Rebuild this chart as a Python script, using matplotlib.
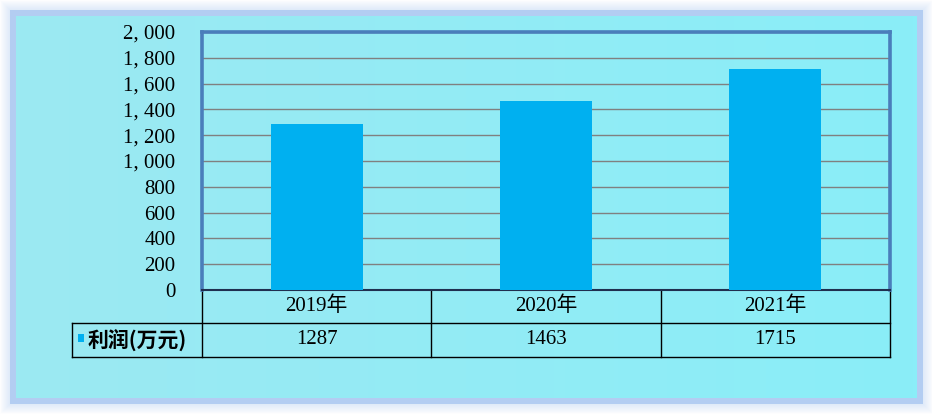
import numpy as np
import matplotlib.pyplot as plt
from matplotlib.patches import Rectangle
from matplotlib.colors import LinearSegmentedColormap

plt.rcParams["font.family"] = ["Liberation Serif", "Noto Sans CJK SC"]

years = ["2019年", "2020年", "2021年"]
profit = [1287, 1463, 1715]
series_name = "利润(万元)"
yticks = list(range(0, 2001, 200))

W, H = 932, 416
fig = plt.figure(figsize=(W / 100, H / 100), dpi=100)
fig.patch.set_facecolor("white")

# background panel with glow
bg = fig.add_axes([0, 0, 1, 1], zorder=0)
bg.set_xlim(0, W)
bg.set_ylim(H, 0)
bg.axis("off")
for i in range(10):
    bg.add_patch(Rectangle((16 - 6 - i, 16 - 6 - i), 901 + 2 * (6 + i), 382 + 2 * (6 + i),
                           fill=False, edgecolor="#B8D0F2", lw=1.2, alpha=max(0.0, 0.3 - 0.03 * i)))
bg.add_patch(Rectangle((10, 10), 913, 394, facecolor="#B3CDF2", edgecolor="none"))
cmap = LinearSegmentedColormap.from_list("panel", ["#9CE9F2", "#8AEEF8"])
bg.imshow(np.linspace(0, 1, 256)[None, :], cmap=cmap, aspect="auto",
          extent=[16, 917, 398, 16], zorder=1)

# chart area
ax = fig.add_axes([202 / W, 1 - 290 / H, 688 / W, 258 / H], zorder=2)
ax.patch.set_alpha(0)
x = np.arange(len(years))
ax.bar(x, profit, width=0.4, color="#00B0F0", zorder=3)
ax.set_xlim(-0.5, len(years) - 0.5)
ax.set_ylim(0, 2000)
ax.set_yticks(yticks)
ax.set_yticklabels([f"{v:,}".replace(",", ", ") for v in yticks], fontsize=15)
ax.tick_params(axis="y", length=0, pad=19)
ax.set_xticks([])
ax.grid(axis="y", color="#808080", lw=1.0, zorder=1)
for s in ["left", "top", "right"]:
    ax.spines[s].set_color("#4A7EBB")
    ax.spines[s].set_linewidth(2.6)
ax.spines["bottom"].set_color("#1F2F4F")
ax.spines["bottom"].set_linewidth(1.5)

# data table under the axis
tr = ax.get_xaxis_transform()
r1 = -33 / 258
r2 = -67 / 258
left_x = -0.5 - 130 / 688 * 3
lk = dict(transform=tr, clip_on=False, color="black", lw=1.0)
ax.plot([left_x, 2.5], [r1, r1], **lk)
ax.plot([left_x, 2.5], [r2, r2], **lk)
ax.plot([left_x, left_x], [r1, r2], **lk)
for b in np.arange(-0.5, len(years) + 0.5, 1.0):
    ax.plot([b, b], [0, r2], **lk)
for xi, yr, v in zip(x, years, profit):
    ax.text(xi, r1 / 2, yr, transform=tr, ha="center", va="center", fontsize=15)
    ax.text(xi, (r1 + r2) / 2, str(v), transform=tr, ha="center", va="center", fontsize=15)
ax.add_patch(Rectangle((left_x + 0.027, (r1 + r2) / 2 - 0.006), 0.027, 0.03, transform=tr,
                       clip_on=False, facecolor="#00B0F0", edgecolor="none"))
ax.text(left_x + 0.068, (r1 + r2) / 2, series_name, transform=tr, ha="left", va="center",
        fontsize=15, fontweight="bold", family=["Noto Sans CJK SC"])

fig.savefig("out.png", dpi=100)
